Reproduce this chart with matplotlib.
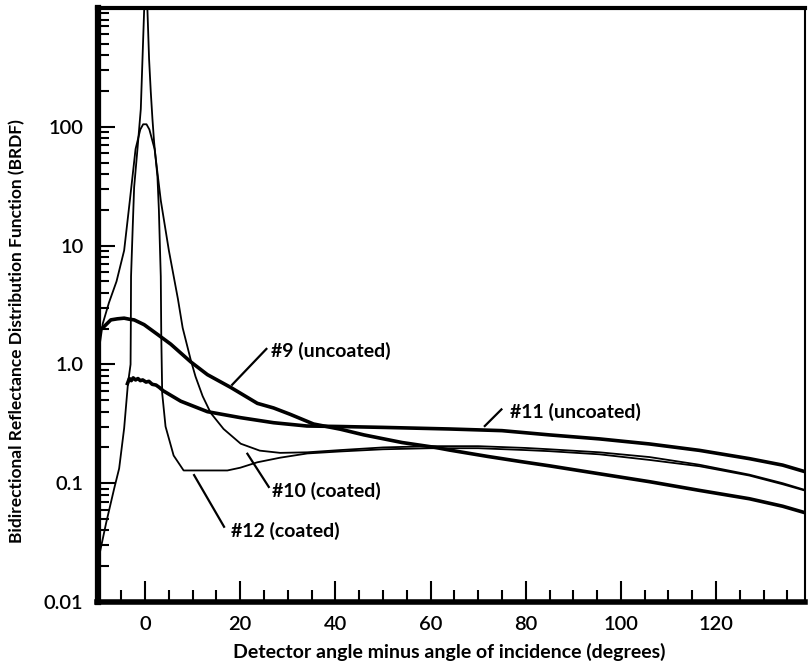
import matplotlib
matplotlib.use("Agg")
import matplotlib.pyplot as plt
from matplotlib.ticker import FixedLocator, MultipleLocator, LogLocator, NullFormatter

plt.rcParams['font.family'] = ['Lato', 'DejaVu Sans']

# ---------------- data ----------------
# Sample #12 (coated) - very sharp specular peak
x12 = [-10, -9.6, -8.2, -6.5, -5.45, -4.4, -3.6, -3.05, -3.0, -2.95, -2.6, -2.3, -1.6, -0.9, -0.2, 0.15,
       0.5, 0.84, 1.2, 1.55, 1.9, 2.6, 2.9, 3.1, 3.3, 3.4, 3.6, 4.3, 6.0, 8.1, 12, 17.3, 20, 23.6, 28.4,
       34.1, 41, 50, 60, 70, 80, 85, 95.5, 106, 116.5, 127, 134, 139]
y12 = [0.023, 0.025, 0.046, 0.09, 0.133, 0.29, 0.69, 1.0, 2.0, 5.5, 14.2, 31, 65, 141, 950, 1500,
       950, 373, 196, 116, 74, 38, 20, 10.4, 5.5, 1.78, 0.57, 0.30, 0.171, 0.128, 0.128, 0.128, 0.135, 0.15, 0.164,
       0.178, 0.185, 0.193, 0.197, 0.197, 0.19, 0.186, 0.175, 0.157, 0.139, 0.116, 0.098, 0.086]

# Sample #10 (coated) - broader peak near 100
x10 = [-10, -8.9, -7.6, -6.0, -4.4, -3.2, -2.0, -1.0, -0.4, 0.3, 0.9, 2.0, 3.3, 5.0, 6.9, 7.9, 9.6, 10.6,
       12.1, 13.8, 16.5, 20.1, 24.1, 28.4, 34.1, 41, 50, 60, 70, 80, 85, 95.5, 106, 116.5, 127, 134, 139]
y10 = [1.09, 2.2, 3.3, 5.0, 9.1, 24, 65, 95, 105, 105, 95, 65, 24, 9.1, 3.56, 2.03, 1.09, 0.79,
       0.54, 0.39, 0.286, 0.215, 0.188, 0.18, 0.182, 0.19, 0.2, 0.205, 0.205, 0.198, 0.193, 0.182, 0.166, 0.143, 0.118, 0.1, 0.087]

# Sample #9 (uncoated)
x9 = [-10, -8.9, -7.2, -5.8, -4.4, -3.3, -2.3, -0.2, 2.6, 5.4, 9.6, 13.1, 18, 23.6, 27, 30.5, 35.4, 41,
      46, 54, 61, 64, 72, 79, 85, 89, 95.5, 106, 116.5, 127, 134, 139]
y9 = [1.95, 2.03, 2.37, 2.42, 2.45, 2.4, 2.37, 2.16, 1.79, 1.48, 1.05, 0.82, 0.64, 0.47, 0.43, 0.38, 0.315, 0.285,
      0.255, 0.22, 0.2, 0.19, 0.168, 0.152, 0.14, 0.132, 0.12, 0.103, 0.087, 0.074, 0.064, 0.056]

# Sample #11 (uncoated)
x11 = [-3.7, -3.3, -2.9, -2.5, -2.0, -1.5, -1.0, -0.5, 0.2, 0.8, 1.5, 2.3, 3.0, 3.8, 7.5, 13.1, 20.1, 27,
       34, 41, 50, 64, 75, 85, 95.5, 106, 116.5, 127, 134, 139]
y11 = [0.69, 0.76, 0.73, 0.77, 0.74, 0.76, 0.73, 0.74, 0.71, 0.72, 0.68, 0.67, 0.64, 0.6, 0.49, 0.40, 0.356, 0.323,
       0.303, 0.30, 0.295, 0.286, 0.277, 0.255, 0.236, 0.214, 0.189, 0.161, 0.142, 0.124]

x_major = [0, 20, 40, 60, 80, 100, 120]
x_labels = ['0', '20', '40', '60', '80', '100', '120']
y_major = [0.01, 0.1, 1, 10, 100]
y_labels = ['0.01', '0.1', '1.0', '10', '100']

labels = ['#9 (uncoated)', '#10 (coated)', '#12 (coated)', '#11 (uncoated)']
label_xy = [(26.4, 1.30), (26.6, 0.0857), (18.0, 0.0398), (76.7, 0.397)]
leader_from = [(18.3, 0.674), (21.5, 0.177), (10.3, 0.117), (71.4, 0.303)]
leader_to = [(25.5, 1.35), (26.0, 0.093), (16.6, 0.043), (74.9, 0.418)]

# ---------------- figure ----------------
W, H = 809, 672
fig = plt.figure(figsize=(W / 100, H / 100), dpi=100)
ax = fig.add_axes([97.5 / W, (H - 602) / H, (805 - 97.5) / W, (602 - 8) / H])

thin = 1.3
thick = 2.6
ax.plot(x12, y12, color='black', lw=thin, solid_joinstyle='round')
ax.plot(x10, y10, color='black', lw=thin, solid_joinstyle='round')
ax.plot(x9, y9, color='black', lw=thick, solid_joinstyle='round')
ax.plot(x11, y11, color='black', lw=thick, solid_joinstyle='round')

for (fx, fy), (tx, ty) in zip(leader_from, leader_to):
    ax.plot([fx, tx], [fy, ty], color='black', lw=1.6)
for txt, (tx, ty) in zip(labels, label_xy):
    ax.text(tx, ty, txt, fontsize=14, fontweight='bold', va='center', ha='left')

ax.set_yscale('log')
ax.set_xlim(-10, 138.7)
ax.set_ylim(0.01, 1000)

ax.xaxis.set_major_locator(FixedLocator(x_major))
ax.set_xticklabels(x_labels, fontweight='semibold', fontsize=14.5)
ax.xaxis.set_minor_locator(MultipleLocator(5))
ax.yaxis.set_major_locator(FixedLocator(y_major))
ax.set_yticklabels(y_labels, fontweight='semibold', fontsize=14.5)
ax.yaxis.set_minor_locator(LogLocator(base=10, subs=[2, 3, 4, 5, 6, 7, 8, 9], numticks=20))
ax.yaxis.set_minor_formatter(NullFormatter())

ax.tick_params(axis='both', which='both', direction='in', top=False, right=False, width=1.5)
ax.tick_params(axis='x', which='major', length=15, pad=10)
ax.tick_params(axis='x', which='minor', length=8.5)
ax.tick_params(axis='y', which='major', length=12, pad=10)
ax.tick_params(axis='y', which='minor', length=8)

ax.spines['left'].set_linewidth(4.5)
ax.spines['bottom'].set_linewidth(4.0)
ax.spines['top'].set_linewidth(3.0)
ax.spines['right'].set_linewidth(1.5)

fig.text(17 / W, 1 - 331 / H, 'Bidirectional Reflectance Distribution Function (BRDF)',
         rotation=90, ha='center', va='center', fontsize=12.5, fontweight='bold')
fig.text(449 / W, 1 - 652 / H, 'Detector angle minus angle of incidence (degrees)',
         ha='center', va='center', fontsize=14, fontweight='bold')

fig.savefig('out.png', dpi=100)
